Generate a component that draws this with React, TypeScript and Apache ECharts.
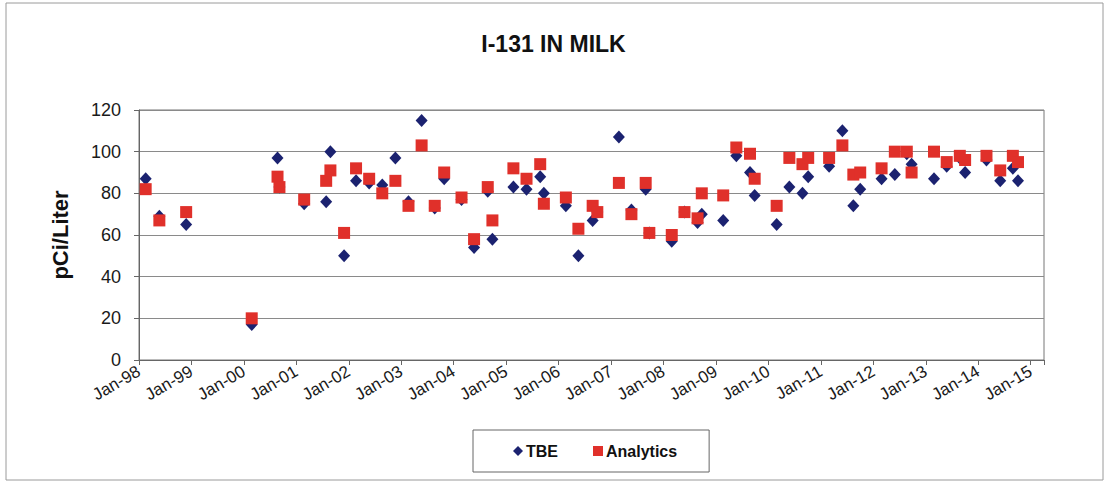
import React, { useEffect, useRef } from "react";
import * as echarts from "echarts";

const dates: string[] = [
  "1998-02-17", "1998-05-21", "1998-11-25", "2000-02-25", "2000-08-22", "2000-09-05",
  "2001-02-25", "2001-07-26", "2001-08-25", "2001-11-29", "2002-02-21", "2002-05-21",
  "2002-08-21", "2002-11-21", "2003-02-21", "2003-05-21", "2003-08-21", "2003-10-26",
  "2004-02-25", "2004-05-21", "2004-08-25", "2004-09-27", "2005-02-21", "2005-05-21",
  "2005-08-25", "2005-09-20", "2006-02-21", "2006-05-17", "2006-08-25", "2006-09-27",
  "2007-02-25", "2007-05-21", "2007-08-29", "2007-09-24", "2008-02-28", "2008-05-25",
  "2008-08-25", "2008-09-24", "2009-02-21", "2009-05-21", "2009-08-25", "2009-09-27",
  "2010-02-28", "2010-05-25", "2010-08-25", "2010-10-04", "2011-02-28", "2011-05-29",
  "2011-08-14", "2011-10-01", "2012-02-28", "2012-05-29", "2012-08-21", "2012-09-24",
  "2013-02-28", "2013-05-25", "2013-08-25", "2013-10-01", "2014-02-28", "2014-06-02",
  "2014-08-29", "2014-10-04",
];

const tbe: number[] = [
  87, 69, 65, 17, 97, 83,
  75, 76, 100, 50, 86, 85,
  84, 97, 76, 115, 73, 87,
  77, 54, 81, 58, 83, 82,
  88, 80, 74, 50, 67, 71,
  107, 72, 82, 61, 57, 71,
  66, 70, 67, 98, 90, 79,
  65, 83, 80, 88, 93, 110,
  74, 82, 87, 89, 99, 94,
  87, 93, 97, 90, 96, 86,
  92, 86,
];

const analytics: number[] = [
  82, 67, 71, 20, 88, 83,
  77, 86, 91, 61, 92, 87,
  80, 86, 74, 103, 74, 90,
  78, 58, 83, 67, 92, 87,
  94, 75, 78, 63, 74, 71,
  85, 70, 85, 61, 60, 71,
  68, 80, 79, 102, 99, 87,
  74, 97, 94, 97, 97, 103,
  89, 90, 92, 100, 100, 90,
  100, 95, 98, 96, 98, 91,
  98, 95,
];

const yTicks: number[] = [0, 20, 40, 60, 80, 100, 120];

function toYear(d: string): number {
  const [y, m, day] = d.split("-").map(Number);
  return y + (m - 1) / 12 + (day - 1) / 365;
}

export default function App() {
  const ref = useRef<HTMLDivElement>(null);
  useEffect(() => {
    document.body.style.margin = "0";
    const chart = echarts.init(ref.current!, undefined, { renderer: "svg" });
    const font = "Arial, 'Liberation Sans', Helvetica, sans-serif";
    chart.setOption({
      animation: false,
      backgroundColor: "#ffffff",
      textStyle: { fontFamily: font },
      title: {
        text: "I-131 IN MILK",
        left: "center",
        top: 27,
        textStyle: { fontSize: 23, fontWeight: "bold", color: "#111", fontFamily: font },
      },
      graphic: [
        {
          type: "rect",
          shape: { x: 6, y: 3, width: 1097, height: 477 },
          style: { fill: "none", stroke: "#9a9a9a", lineWidth: 1 },
          silent: true,
        },
      ],
      legend: {
        left: 473,
        top: 430,
        padding: [13, 32, 13, 40],
        itemGap: 35,
        itemWidth: 10,
        itemHeight: 10,
        borderColor: "#666",
        borderWidth: 1,
        textStyle: { fontSize: 16, fontWeight: "bold", color: "#111", fontFamily: font, padding: [0, 0, 0, -2] },
        data: [
          { name: "TBE", icon: "diamond" },
          { name: "Analytics", icon: "rect" },
        ],
      },
      grid: {
        left: 139,
        right: 63,
        top: 110,
        bottom: 125,
        show: true,
        borderColor: "#777",
        borderWidth: 1,
        backgroundColor: "transparent",
      },
      xAxis: {
        type: "value",
        min: 1998,
        max: 2015.254,
        interval: 1,
        axisLine: { show: true, lineStyle: { color: "#666" } },
        axisTick: { show: true, length: 5, lineStyle: { color: "#666" } },
        splitLine: { show: false },
        axisLabel: {
          rotate: 30,
          fontSize: 17,
          color: "#1a1a1a",
          margin: 10,
          fontFamily: font,
          formatter: (v: number) =>
            Math.abs(v - Math.round(v)) < 1e-6 ? "Jan-" + String(Math.round(v) % 100).padStart(2, "0") : "",
        },
      },
      yAxis: {
        type: "value",
        min: yTicks[0],
        max: yTicks[yTicks.length - 1],
        interval: 20,
        name: "pCi/Liter",
        nameLocation: "middle",
        nameGap: 68,
        nameTextStyle: { fontSize: 22, fontWeight: "bold", color: "#111", fontFamily: font },
        axisLine: { show: true, lineStyle: { color: "#666" } },
        axisTick: { show: true, length: 5, lineStyle: { color: "#666" } },
        splitLine: { show: true, lineStyle: { color: "#8a8a8a", width: 1 } },
        axisLabel: { fontSize: 18, color: "#1a1a1a", margin: 18, fontFamily: font },
      },
      series: [
        {
          name: "TBE",
          type: "scatter",
          symbol: "diamond",
          symbolSize: [12, 13],
          itemStyle: { color: "#1b2270", opacity: 1 },
          data: dates.map((d, i) => [toYear(d), tbe[i]]),
        },
        {
          name: "Analytics",
          type: "scatter",
          symbol: "rect",
          symbolSize: 12,
          itemStyle: { color: "#e0302a", opacity: 1 },
          data: dates.map((d, i) => [toYear(d), analytics[i]]),
        },
      ],
    });
    return () => chart.dispose();
  }, []);
  return <div ref={ref} style={{ position: "absolute", left: 0, top: 0, width: 1107, height: 485 }} />;
}
